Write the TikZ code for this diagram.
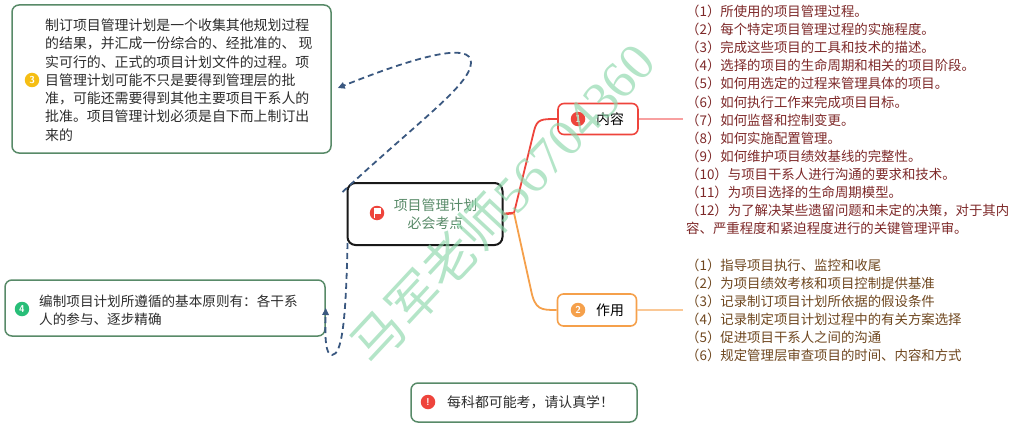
\documentclass[tikz,border=0pt]{standalone}
\usepackage{fontspec}
\newfontfamily\cjk{Noto Sans CJK SC}
\newfontfamily\wmserif{Liberation Serif}
\usetikzlibrary{arrows.meta,calc}
\definecolor{cgreen}{RGB}{88,138,104}
\definecolor{cred}{RGB}{238,68,60}
\definecolor{corange}{RGB}{245,160,75}
\definecolor{lred}{RGB}{248,160,160}
\definecolor{lorange}{RGB}{250,200,150}
\definecolor{dblue}{RGB}{58,88,128}
\definecolor{maroon}{RGB}{125,40,40}
\definecolor{brownt}{RGB}{110,70,30}
\definecolor{ctext}{RGB}{45,45,45}
\definecolor{cyellow}{RGB}{245,190,20}
\definecolor{cgreenicon}{RGB}{40,190,120}
\definecolor{wm}{RGB}{140,215,170}
\tikzset{
  card/.style={draw=cgreen, line width=1.5pt, rounded corners=7pt, fill=white, inner sep=0pt},
  topic/.style={draw=#1, line width=1.6pt, rounded corners=6pt, fill=white, inner sep=0pt},
  txt/.style={inner sep=0pt, align=left, text=ctext, font=\cjk\fontsize{13.9}{18.3}\selectfont},
  listtxt/.style={inner sep=0pt, align=left, text=#1, font=\cjk\fontsize{13.4}{18.1}\selectfont},
  icon/.style={circle, fill=#1, inner sep=0pt, minimum size=14.5pt, text=white, font=\sffamily\bfseries\fontsize{10}{10}\selectfont},
  dashlink/.style={draw=dblue, line width=1.8pt, dash pattern=on 6pt off 4pt, -{Triangle[length=7pt,width=6.5pt]}}
}
\begin{document}
\begin{tikzpicture}[x=1pt,y=-1pt]
\useasboundingbox (0,0) rectangle (1031,428);
% boxes
\node[card, minimum width=319pt, minimum height=148pt] (b3) at (171.5,79) {};
\node[card, minimum width=320pt, minimum height=56pt] (b4) at (165,308) {};
\node[card, minimum width=226pt, minimum height=39pt] (b5) at (524,402.5) {};
\node[draw=black!90, line width=2pt, rounded corners=8pt, fill=white, minimum width=155pt, minimum height=62pt, inner sep=0pt] (c) at (425,214) {};
\node[topic=cred, minimum width=80pt, minimum height=31pt] (nr) at (598,119) {};
\node[topic=corange, minimum width=79pt, minimum height=32pt] (zy) at (597,310) {};
% texts
\node[txt, anchor=west] (t3) at (45,80) {制订项目管理计划是一个收集其他规划过程\\的结果，并汇成一份综合的、经批准的、 现\\实可行的、正式的项目计划文件的过程。项\\目管理计划可能不只是要得到管理层的批\\准，可能还需要得到其他主要项目干系人的\\批准。项目管理计划必须是自下而上制订出\\来的};
\node[icon=cyellow] (i3) at (32,80) {3};
\node[txt, anchor=west, font=\cjk\fontsize{13.6}{17.5}\selectfont] (t4) at (39,310.5) {编制项目计划所遵循的基本原则有：各干系\\人的参与、逐步精确};
\node[icon=cgreenicon] (i4) at (22,309) {4};
\node[txt, anchor=west] (t5) at (447,402) {每科都可能考，请认真学！};
\node[icon=cred] (i5) at (428,402) {!};
\node[txt, align=center, text=cgreen] (tc) at (435.5,214.5) {项目管理计划\\必会考点};
\node[icon=cred] (ic) at (377,213) {};
\fill[white] (373.6,208.3) rectangle (375.2,218.2);
\fill[white] (375.2,208.3) rectangle (381.2,214);
\node[txt, anchor=center, text=black] (tnr) at (610,119) {内容};
\node[icon=cred] (inr) at (578,119) {1};
\node[txt, anchor=center, text=black] (tzy) at (610,310) {作用};
\node[icon=corange] (izy) at (578,310) {2};
% lists
\node[listtxt=maroon, anchor=west] (l1) at (686,120) {（1）所使用的项目管理过程。\\（2）每个特定项目管理过程的实施程度。\\（3）完成这些项目的工具和技术的描述。\\（4）选择的项目的生命周期和相关的项目阶段。\\（5）如何用选定的过程来管理具体的项目。\\（6）如何执行工作来完成项目目标。\\（7）如何监督和控制变更。\\（8）如何实施配置管理。\\（9）如何维护项目绩效基线的完整性。\\（10）与项目干系人进行沟通的要求和技术。\\（11）为项目选择的生命周期模型。\\（12）为了解决某些遗留问题和未定的决策，对于其内\\容、严重程度和紧迫程度进行的关键管理评审。};
\node[listtxt=brownt, anchor=west] (l2) at (686,310.5) {（1）指导项目执行、监控和收尾\\（2）为项目绩效考核和项目控制提供基准\\（3）记录制订项目计划所依据的假设条件\\（4）记录制定项目计划过程中的有关方案选择\\（5）促进项目干系人之间的沟通\\（6）规定管理层审查项目的时间、内容和方式};
% connectors
\coordinate (jn) at (514,213);
\coordinate (e1) at (683,119);
\coordinate (e2) at (683,310);
\draw[cred, line width=2.5pt] (c.east) -- (jn);
\draw[cred, line width=1.8pt] (jn) -- (534,131) .. controls (537,119) and (541,119) .. (nr.west);
\draw[corange, line width=1.8pt] (jn) -- (531,290) .. controls (535,310) and (541,310) .. (zy.west);
\draw[lred, line width=1.5pt] (nr.east) -- (e1);
\draw[lorange, line width=1.5pt] (zy.east) -- (e2);
\draw[dashlink] ($(c.north west)+(-4,10)$) .. controls (420,120) and (470,85) .. (471,63) .. controls (472,42) and (420,55) .. ($(b3.east)+(6,9)$);
\draw[dashlink] ($(c.south west)+(1,-3)$) .. controls (346,320) and (342,355) .. (332,355) .. controls (325,355) and (325,335) .. (b4.east);
% watermark
\node[rotate=47, text=wm, opacity=0.65, inner sep=0pt] (wmk) at (502,203) {\cjk\fontsize{52}{52}\selectfont 马军老师\wmserif 56704360};
\end{tikzpicture}
\end{document}
